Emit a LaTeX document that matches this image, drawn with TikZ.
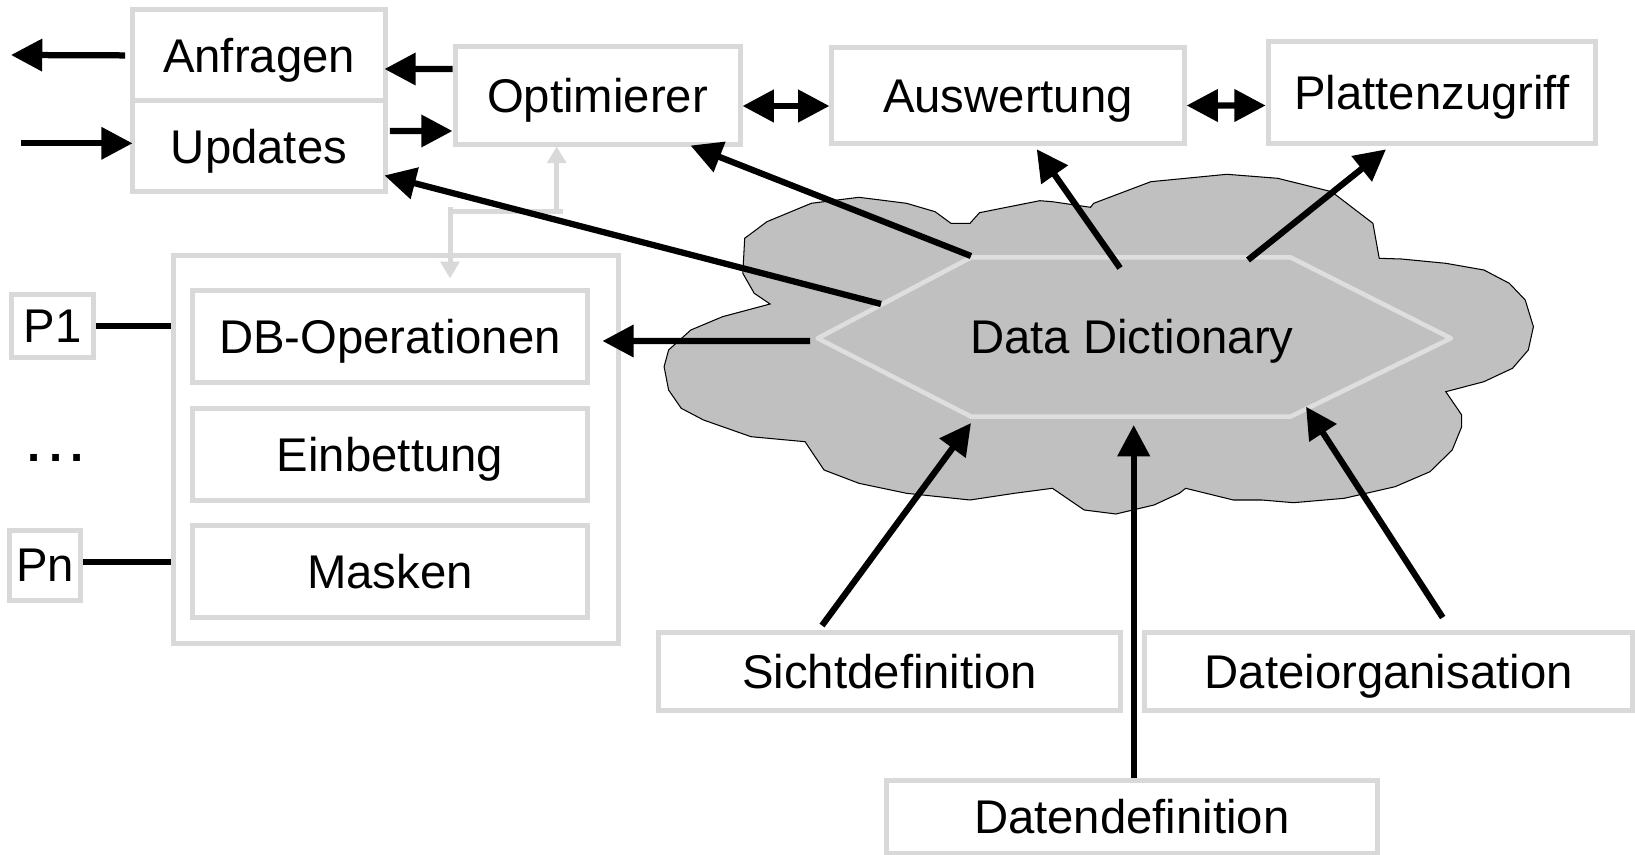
\documentclass[tikz,border=0pt]{standalone}
\usepackage{fontspec}
\setmainfont{Liberation Sans}
\usetikzlibrary{arrows.meta,calc}
\definecolor{boxgray}{RGB}{217,217,217}
\definecolor{hexgray}{RGB}{222,222,222}
\definecolor{cloudgray}{RGB}{192,192,192}
\begin{document}
\begin{tikzpicture}[x=0.48pt,y=-0.48pt,
  font=\fontsize{22.7pt}{27pt}\selectfont,
  box/.style={draw=boxgray, line width=2.4pt, fill=white, inner sep=0pt,
              text height=16.25pt, text depth=0pt},
  arr/.style={line width=3pt, -{Triangle[length=15pt,width=15pt]}},
  darr/.style={line width=3pt, {Triangle[length=15pt,width=15pt]}-{Triangle[length=15pt,width=15pt]}},
  plainline/.style={line width=3pt},
  garr/.style={draw=boxgray, line width=2.4pt, -{Triangle[length=8pt,width=9pt]}},
]
\useasboundingbox (0,0) rectangle (1635,855);

% cloud
\draw[fill=cloudgray, line width=0.5pt]
 (744.7,238.3) -- (766.9,221.7) -- (811.3,203.3) -- (858.9,197.3) -- (906.5,203.3)
 -- (935.1,211.7) -- (950.9,223.3) -- (970,223.3) -- (979.5,212.7) -- (1039.7,200.7)
 -- (1052.4,201.7) -- (1090.5,207.3) -- (1093.7,203.3) -- (1150.8,181.7) -- (1226.9,174.3)
 -- (1277.7,178.3) -- (1331.6,191.7) -- (1372.9,223.3) -- (1379.2,258.3) -- (1401.4,259)
 -- (1445.8,263.3) -- (1483.9,270) -- (1509.3,283.3) -- (1525.2,300) -- (1533.4,326.7)
 -- (1528.3,350) -- (1512.5,368.3) -- (1483.9,381.7) -- (1445.8,391.7) -- (1461.7,415)
 -- (1461.7,426.7) -- (1452.2,450) -- (1430,471.7) -- (1395.1,486.7) -- (1344.3,498.3)
 -- (1293.5,502.7) -- (1261.8,500) -- (1233.3,500) -- (1185.7,488.3) -- (1179.3,493.3)
 -- (1154,505) -- (1115.9,514) -- (1084.2,510) -- (1052.4,488.3) -- (1014.4,493.3)
 -- (970,500) -- (906.5,493.3) -- (858.9,483.3) -- (824,470) -- (805,441.7)
 -- (751,436.7) -- (703.5,420) -- (681.2,408.3) -- (668.6,390) -- (664.1,366.7)
 -- (668.6,350) -- (690.8,330) -- (722.5,316.7) -- (770.1,304) -- (754.2,293.3)
 -- (742.8,273.3) -- cycle;

% hexagon
\coordinate (hexL) at (817.7,338.3);
\coordinate (hexTL) at (971.2,257.3);
\coordinate (hexTR) at (1290.4,257.3);
\coordinate (hexR) at (1450.9,338.3);
\coordinate (hexBR) at (1290.4,416.7);
\coordinate (hexBL) at (971.2,416.7);
\draw[hexgray, line width=2.2pt, line join=round]
 (hexL) -- (hexTL) -- (hexTR) -- (hexR) -- (hexBR) -- (hexBL) -- cycle;
\node[inner sep=0pt, text height=16.25pt, text depth=0pt] (dd) at (1132,337) {Data Dictionary};

% top boxes
\node[box, minimum width=121.9pt, minimum height=43.6pt] (anf) at (259,55.4) {Anfragen};
\node[box, minimum width=121.9pt, minimum height=43.8pt] (upd) at (259,146.3) {Updates};
\node[box, minimum width=136.8pt, minimum height=46.6pt] (opt) at (597.5,95.5) {Optimierer};
\node[box, minimum width=169pt, minimum height=46.1pt] (ausw) at (1008,95.3) {Auswertung};
\node[box, minimum width=157pt, minimum height=49pt] (platte) at (1431.7,92.8) {Plattenzugriff};

% left program block
\node[box, minimum width=213.6pt, minimum height=185.8pt] (outer) at (395.5,449.5) {};
\node[box, minimum width=190pt, minimum height=44.6pt] (dbop) at (390,336.5) {DB-Operationen};
\node[box, minimum width=190pt, minimum height=44.6pt] (einb) at (390,454.5) {Einbettung};
\node[box, minimum width=190pt, minimum height=44.6pt] (mask) at (390,571.5) {Masken};
\node[box, minimum width=38.9pt, minimum height=29.8pt] (p1) at (52.5,326) {P1};
\node[box, minimum width=33.6pt, minimum height=33.6pt] (pn) at (45,565) {Pn};
\node[anchor=base, inner sep=0pt] (dots) at (56,462) {\bfseries .\kern4pt.\kern4pt.};

% bottom boxes
\node[box, minimum width=221.3pt, minimum height=37.4pt] (sicht) at (889.5,671.7) {Sichtdefinition};
\node[box, minimum width=234.5pt, minimum height=37.4pt] (dorg) at (1388.7,671.7) {Dateiorganisation};
\node[box, minimum width=235.7pt, minimum height=35.5pt] (daten) at (1131.8,817) {Datendefinition};

% free ends
\coordinate (outA) at (11,55);
\coordinate (inU) at (21,143.3);
\coordinate (h1) at (810,341);
\coordinate (h2) at (881,304);
\coordinate (h3) at (971,256);
\coordinate (h4) at (1120,268);
\coordinate (h5) at (1248,260);
\coordinate (h6) at (971,423);
\coordinate (h7) at (1133.7,425);
\coordinate (h8) at (1306,406.7);
\coordinate (gj) at (556.7,211.7);
\coordinate (gx) at (450,211.7);
\coordinate (gend) at (450,278.3);

% black arrows at top-left
\draw[arr] ($(anf.west)+(-4.5,0)$) -- (outA);
\draw[arr] (inU) -- ($(upd.west)+(3,-3)$);
\draw[arr] ($(opt.west)+(0,-26.5)$) -- ($(anf.east)+(-4,13.6)$);
\draw[arr] ($(upd.east)+(1.5,-15.3)$) -- ($(opt.west)+(0,35.5)$);
\draw[darr] ($(opt.east)+(0,10.5)$) -- ($(ausw.west)+(0,10.7)$);
\draw[darr] ($(ausw.east)+(0,10.2)$) -- ($(platte.west)+(0,12.7)$);

% gray feedback arrows
\draw[garr] (gj) -- (gj |- opt.south);
\draw[garr] ($(gj)+(6,0)$) -- (gx) -- (gend);
\draw[boxgray, line width=2.4pt] (gx) -- ++(0,-5);

% P lines
\draw[plainline] (p1.east) -- (p1.east -| outer.west);
\draw[plainline] ($(pn.east)+(0,-3)$) -- ($(pn.east -| outer.west)+(0,-3)$);

% arrows from data dictionary
\draw[arr] (h1) -- ($(dbop.east)+(12,4.5)$);
\draw[arr] (h2) -- ($(upd.south east)+(-4,-19)$);
\draw[arr] (h3) -- ($(opt.south east)+(-52,-1)$);
\draw[arr] (h4) -- ($(ausw.south)+(28.7,3.4)$);
\draw[arr] (h5) -- ($(platte.south)+(-45.7,3)$);

% arrows into data dictionary
\draw[arr] ($(sicht.north)+(-67.5,-4.7)$) -- (h6);
\draw[arr] ($(daten.north)+(1.9,0)$) -- (h7);
\draw[arr] ($(dorg.north)+(54,-12.7)$) -- (h8);
\end{tikzpicture}
\end{document}
